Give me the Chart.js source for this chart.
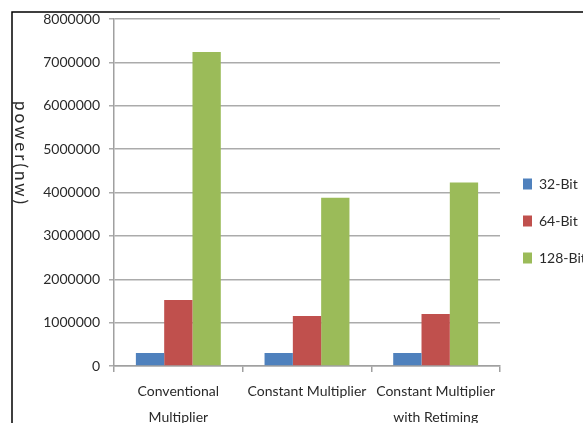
<!DOCTYPE html>
<html><head><meta charset="utf-8">
<script src="https://cdn.jsdelivr.net/npm/chart.js@4.4.1/dist/chart.umd.min.js"></script>
<style>html,body{margin:0;padding:0;background:#fff;} #wrap{position:relative;width:583px;height:423px;}</style>
</head><body><div id="wrap"><canvas id="c"></canvas></div>
<script>
const categories = [['Conventional', 'Multiplier'], 'Constant Multiplier', ['Constant Multiplier', 'with Retiming']];
const seriesNames = ['32-Bit', '64-Bit', '128-Bit'];
const bit32 = [300000, 300000, 300000];
const bit64 = [1520000, 1150000, 1200000];
const bit128 = [7240000, 3880000, 4230000];
const yTickValues = [0, 1000000, 2000000, 3000000, 4000000, 5000000, 6000000, 7000000, 8000000];
const yTitle = 'power(nw)';
const seriesColors = ['#4F81BD', '#C0504D', '#9BBB59'];

const FONT = 'Lato';
const textColor = '#2a2a2a';

const framePlugin = {
  id: 'frame',
  beforeDraw(chart) {
    const ctx = chart.ctx;
    ctx.save();
    ctx.strokeStyle = '#000';
    ctx.lineWidth = 1.5;
    ctx.beginPath();
    ctx.moveTo(12, 423);
    ctx.lineTo(12, 12);
    ctx.lineTo(583, 12);
    ctx.stroke();
    ctx.restore();
  },
  afterDraw(chart) {
    const ctx = chart.ctx;
    ctx.save();
    ctx.translate(20, 154);
    ctx.rotate(Math.PI / 2);
    ctx.font = '17px ' + FONT;
    try { ctx.letterSpacing = '3px'; } catch (e) {}
    ctx.fillStyle = textColor;
    ctx.textAlign = 'center';
    ctx.textBaseline = 'middle';
    ctx.fillText(yTitle, 0, 0);
    ctx.restore();
  }
};

const allSeries = [bit32, bit64, bit128];
new Chart(document.getElementById('c'), {
  type: 'bar',
  data: {
    labels: categories,
    datasets: seriesNames.map((name, i) => ({
      label: name,
      data: allSeries[i],
      backgroundColor: seriesColors[i],
      borderWidth: 0,
      barPercentage: 1,
      categoryPercentage: 0.66
    }))
  },
  options: {
    responsive: true,
    maintainAspectRatio: false,
    animation: false,
    layout: { padding: { top: 19, bottom: 0, left: 0, right: 0 } },
    plugins: {
      tooltip: { enabled: false },
      legend: {
        position: 'right',
        maxWidth: 83,
        labels: {
          boxWidth: 9,
          boxHeight: 11,
          padding: 23,
          color: textColor,
          font: { family: FONT, size: 14 }
        }
      }
    },
    scales: {
      x: {
        afterFit(scale) { scale.height = 57; },
        grid: { drawOnChartArea: false, drawTicks: true, tickLength: 6, color: '#a0a0a0', lineWidth: 1.5, offset: true },
        border: { color: '#a0a0a0', width: 1.5 },
        ticks: {
          autoSkip: false, maxRotation: 0, minRotation: 0, padding: 6,
          color: textColor,
          font: { family: FONT, size: 14, lineHeight: 1.857 }
        }
      },
      y: {
        min: 0, max: 8000000,
        afterFit(scale) { scale.width = 114; },
        afterBuildTicks(scale) { scale.ticks = yTickValues.map(v => ({ value: v })); },
        grid: { color: '#ababab', lineWidth: 1.5, tickLength: 5 },
        border: { color: '#a0a0a0', width: 1.5 },
        ticks: {
          padding: 9,
          color: textColor,
          font: { family: FONT, size: 14 },
          callback: v => String(v)
        }
      }
    }
  },
  plugins: [framePlugin]
});
</script>
</body></html>
